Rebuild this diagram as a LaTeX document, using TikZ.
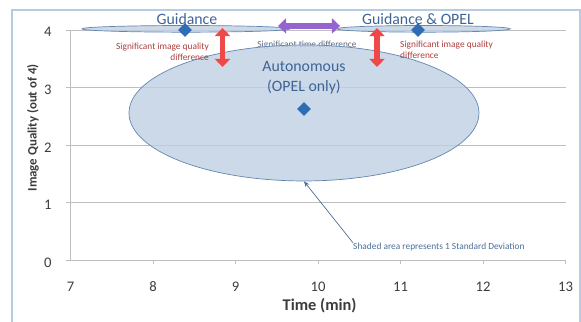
\documentclass[tikz,border=0pt]{standalone}
\usepackage{fontspec}
\setmainfont{Carlito}
\usetikzlibrary{arrows.meta,shapes.geometric}
\definecolor{framecol}{RGB}{183,204,226}
\definecolor{gridcol}{RGB}{191,191,191}
\definecolor{ticktext}{RGB}{60,60,60}
\definecolor{labelblue}{RGB}{62,100,150}
\definecolor{pointblue}{RGB}{46,108,180}
\definecolor{sdfill}{RGB}{190,207,227}
\definecolor{sdline}{RGB}{100,135,178}
\definecolor{qualred}{RGB}{238,72,72}
\definecolor{qualtext}{RGB}{175,60,60}
\definecolor{timepurple}{RGB}{150,100,205}
\definecolor{timetext}{RGB}{95,105,125}
\definecolor{notetext}{RGB}{75,110,155}

\begin{document}
\begin{tikzpicture}[x=2.475cm, y=1.725cm,
  gridline/.style={color=gridcol, line width=0.7pt},
  ticklabel/.style={color=ticktext, font=\fontsize{12.5}{14}\selectfont},
  axistitle/.style={color=ticktext, font=\bfseries\fontsize{12.5}{14}\selectfont},
  pointmark/.style={diamond, fill=pointblue, inner sep=0pt, minimum width=0.42cm, minimum height=0.42cm},
  sdshade/.style={ellipse, fill=sdfill, fill opacity=0.8, draw=sdline, line width=0.6pt, inner sep=0pt},
  grouplabel/.style={color=labelblue, font=\fontsize{13.5}{17}\selectfont},
  qualnote/.style={color=qualtext, font=\fontsize{8}{9.5}\selectfont, inner sep=0pt},
  qualarrow/.style={color=qualred, line width=5pt, {Triangle[width=13pt,length=7pt]}-{Triangle[width=13pt,length=7pt]}},
  timearrow/.style={color=timepurple, line width=5.5pt, {Triangle[width=13pt,length=7pt]}-{Triangle[width=13pt,length=7pt]}},
  notearrow/.style={color=notetext, line width=0.6pt, -{Stealth[length=5pt,width=4pt]}},
]
\useasboundingbox (6.1455,-1.0609) rectangle (13.1879,4.5217);
\draw[color=framecol, line width=1.5pt] (6.291,4.348) rectangle (13.172,-1.2); %frame

% grid and axes
\draw[gridline] (7,1) -- (13,1);
\draw[gridline] (7,2) -- (13,2);
\draw[gridline] (7,3) -- (13,3);
\draw[gridline] (7,4) -- (13,4);
\draw[gridline] (7,0) -- (13,0); %x axis
\draw[gridline] (7,0) -- (7,4); %y axis
\draw[gridline] (6.94,0) -- (7,0); \draw[gridline] (6.94,1) -- (7,1);
\draw[gridline] (6.94,2) -- (7,2); \draw[gridline] (6.94,3) -- (7,3);
\draw[gridline] (6.94,4) -- (7,4);
\draw[gridline] (8,0) -- (8,-.07); \draw[gridline] (9,0) -- (9,-.07);
\draw[gridline] (10,0) -- (10,-.07); \draw[gridline] (11,0) -- (11,-.07);
\draw[gridline] (12,0) -- (12,-.07); \draw[gridline] (13,0) -- (13,-.07);

     \node[ticklabel, anchor=east] (y0) at (6.82,-.04) {0};
     \node[ticklabel, anchor=east] (y1) at (6.82,.96) {1};
     \node[ticklabel, anchor=east] (y2) at (6.82,1.96) {2};
     \node[ticklabel, anchor=east] (y3) at (6.82,2.96) {3};
     \node[ticklabel, anchor=east] (y4) at (6.82,3.96) {4};
     \node[ticklabel] (x7) at (7,-.47) {7};
     \node[ticklabel] (x8) at (8,-.47) {8};
     \node[ticklabel] (x9) at (9,-.47) {9};
     \node[ticklabel] (x10) at (10,-.47) {10};
     \node[ticklabel] (x11) at (11,-.47) {11};
     \node[ticklabel] (x12) at (12,-.47) {12};
     \node[ticklabel] (x13) at (13,-.47) {13};
     \node[axistitle, font=\bfseries\fontsize{14}{16}\selectfont] (xtitle) at (10.02,-.8) {Time (min)};
     \node[axistitle, font=\bfseries\fontsize{11}{13}\selectfont, rotate=90] (ytitle) at (6.545,2.3) {Image Quality (out of 4)};

% standard deviation areas
\node[sdshade, minimum width=6.24cm, minimum height=.2cm] (guidarea) at (8.4,4.02) {};
\node[sdshade, minimum width=5.2cm, minimum height=.2cm] (bothara) at (11.28,4.02) {};
    \node[qualnote, color=timetext] (timenote) at (9.867,3.735) {Significant time difference};
\node[sdshade, minimum width=10.5cm, minimum height=4.08cm] (autoarea) at (9.83,2.557) {};

    \node[qualnote, anchor=east, align=right] (qualleft) at (8.679,3.626) {Significant image quality\\difference};
    \node[qualnote, anchor=west, align=left] (qualright) at (10.994,3.652) {Significant image quality\\difference};

% means
\node[pointmark] (guid) at (8.388,4) {};
\node[pointmark] (both) at (11.212,4) {};
\node[pointmark] (auto) at (9.83,2.626) {};

     \node[grouplabel] (guidlabel) at (8.412,4.191) {Guidance};
     \node[grouplabel] (bothlabel) at (11.212,4.191) {Guidance \& OPEL};
     \node[grouplabel, align=center] (autolabel) at (9.83,3.165) {Autonomous\\(OPEL only)};

% differences
\coordinate (ltop) at (8.842,4.035);
\coordinate (lbot) at (8.842,3.357);
\coordinate (rtop) at (10.715,4.035);
\coordinate (rbot) at (10.715,3.357);
\coordinate (tleft) at (9.515,4.07);
\coordinate (tright) at (10.267,4.07);
\draw[qualarrow] (ltop) -- (lbot); %guidance vs autonomous
\draw[qualarrow] (rtop) -- (rbot); %both vs autonomous
\draw[timearrow] (tleft) -- (tright); %time

% note
\node[qualnote, color=notetext, anchor=west] (sdnote) at (10.424,.226) {Shaded area represents 1 Standard Deviation};
\draw[notearrow] (sdnote.north west) -- (autoarea.south);
\end{tikzpicture}
\end{document}
